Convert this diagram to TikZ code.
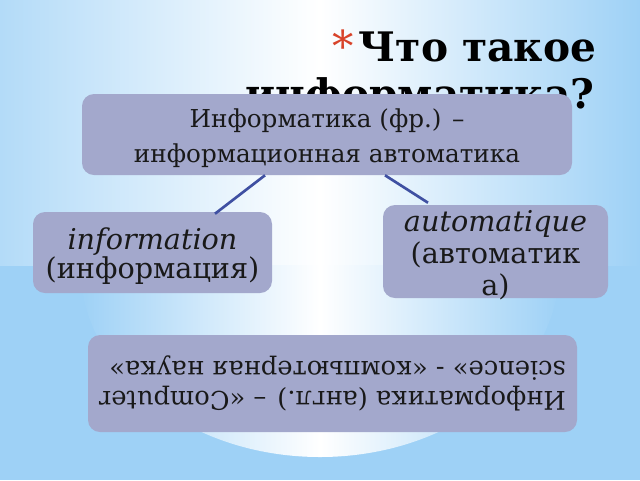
\documentclass[tikz,border=0pt]{standalone}
\usepackage{fontspec}
\setmainfont{DejaVu Serif}
\usetikzlibrary{calc}
\definecolor{bgblue}{HTML}{9ED1F6}
\definecolor{bgblueL}{HTML}{B3DBF8}
\definecolor{boxfill}{HTML}{A3A8CC}
\definecolor{linkblue}{HTML}{3F50A2}
\definecolor{starred}{HTML}{D8432A}
\tikzset{
  infobox/.style={draw=none, fill=boxfill, rounded corners=9pt, inner sep=0pt},
  boxtext/.style={align=center, inner sep=0pt, text=black!90, yshift=-3pt},
  link/.style={draw=linkblue, line width=2pt},
  titletext/.style={anchor=base east, font=\bfseries\fontsize{30.5}{36}\selectfont, text=black},
}
\begin{document}
\begin{tikzpicture}[x=0.75pt,y=-0.75pt]
\useasboundingbox (0,0) rectangle (640,480);
% background
\fill[bgblue] (0,0) rectangle (640,480);
\shade[left color=bgblueL, right color=bgblue, middle color=white, shading=axis] (0,0) rectangle (640,265);
\begin{scope}
\clip (80,265) arc[start angle=180, end angle=0, x radius=240, y radius=192] -- cycle;
\shade[left color=bgblue, right color=bgblue, middle color=white] (80,265) rectangle (560,460);
\end{scope}
% title
\node[titletext] (title1) at (601,61) {Что такое};
\node[titletext] (title2) at (599,108) {информатика?};
\node[anchor=base east, text=starred, font=\fontsize{32}{32}\selectfont, inner sep=0pt] (star) at (title1.base west) {*};
% boxes
\node[infobox, minimum width=490*0.75pt, minimum height=81*0.75pt] (top) at (327,134.5) {};
\node[boxtext, font=\fontsize{18.5}{26}\selectfont] (toptext) at (top.center) {Информатика (фр.) –\\информационная автоматика};
\node[infobox, minimum width=239*0.75pt, minimum height=81*0.75pt] (left) at (152.5,252.5) {};
\node[boxtext, font=\fontsize{21.5}{20.5}\selectfont] (lefttext) at (left.center) {\textit{information}\\(информация)};
\node[infobox, minimum width=225*0.75pt, minimum height=93*0.75pt] (right) at (495.5,251.5) {};
\node[boxtext, font=\fontsize{21.5}{24}\selectfont] (righttext) at (right.center) {\textit{automatique}\\(автоматик\\а)};
\node[infobox, minimum width=489*0.75pt, minimum height=97*0.75pt] (bottom) at (332.5,383.5) {};
\node[rotate=180, align=left, inner sep=0pt, font=\fontsize{19.3}{22.5}\selectfont, text=black!90] (btext) at (bottom.center) {Информатика (англ.) – «Computer\\science» - «компьютерная наука»};
% connectors
\draw[link] ($(top.south)+(-62,0)$) -- ($(left.north)+(62.5,2)$);
\draw[link] ($(top.south)+(58,0)$) -- ($(right.north)+(-67.5,-2)$);
\end{tikzpicture}
\end{document}
